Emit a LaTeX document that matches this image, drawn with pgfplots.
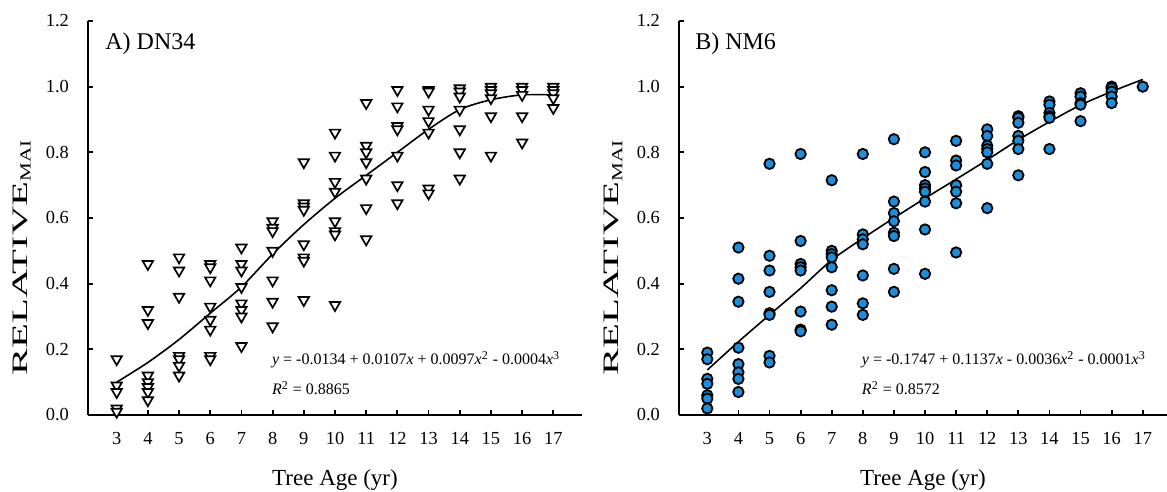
\documentclass[border=0pt]{standalone}
\usepackage{fontspec}
\setmainfont{Liberation Serif}
\usepackage{pgfplots}
\pgfplotsset{compat=1.18}
\definecolor{dotblue}{RGB}{28,142,218}
\pgfplotsset{panel/.style={
  scale only axis, height=197pt,
  ymin=0, ymax=1.2,
  xtick={3,4,...,17}, ytick={0,0.2,0.4,0.6,0.8,1.0,1.2},
  axis x line*=bottom, axis y line*=left,
  axis line style={line width=0.9pt},
  every tick/.append style={line width=0.9pt, black},
  major tick length=2.6pt, tick align=inside,
  /pgf/number format/assume math mode=true,
  xticklabel style={font=\fontsize{9.2}{10}\selectfont, yshift=-5pt},
  yticklabel style={/pgf/number format/fixed, /pgf/number format/fixed zerofill,
    /pgf/number format/precision=1, font=\fontsize{9.2}{10}\selectfont, xshift=-6pt},
  xlabel={Tree Age (yr)},
  xlabel style={at={(axis description cs:0.5,-0.178)}, anchor=base, font=\fontsize{11.5}{13}\selectfont},
  ylabel={\scalebox{1.85}[1]{RELATIVE}\scalebox{1.37}[1]{\textsubscript{MAI}}},
  ylabel style={at={(axis description cs:-0.123,0.40)}, anchor=base, font=\fontsize{11}{13}\selectfont},
  clip=false
}}
\tikzset{tri/.style={only marks, mark=triangle*, mark size=3pt,
    mark options={rotate=180, fill=white, draw=black, line width=0.85pt}},
  dot/.style={only marks, mark=*, mark size=2.6pt,
    mark options={fill=dotblue, draw=black, line width=0.9pt}},
  fit/.style={black, line width=0.8pt, smooth, no marks},
  eqn/.style={anchor=west, inner sep=0pt, font=\fontsize{8}{9}\selectfont},
  tag/.style={anchor=base west, inner sep=0pt, font=\fontsize{12}{14}\selectfont}}
\begin{document}
\begin{tikzpicture}
\useasboundingbox (0,0) rectangle (583.5pt,246pt);
% A) DN34
\begin{axis}[panel, at={(44pt,38.5pt)}, anchor=south west, width=247pt,
  xmin=2.08, xmax=17.92]
\addplot[tri] table {
x y
3 0.17
3 0.09
3 0.07
3 0.02
3 0.01
4 0.46
4 0.32
4 0.28
4 0.12
4 0.10
4 0.085
4 0.07
4 0.045
5 0.48
5 0.44
5 0.36
5 0.18
5 0.17
5 0.15
5 0.12
6 0.46
6 0.45
6 0.41
6 0.33
6 0.29
6 0.26
6 0.18
6 0.17
7 0.51
7 0.46
7 0.44
7 0.39
7 0.34
7 0.32
7 0.30
7 0.21
8 0.59
8 0.57
8 0.56
8 0.50
8 0.41
8 0.345
8 0.27
9 0.77
9 0.645
9 0.635
9 0.625
9 0.52
9 0.48
9 0.47
9 0.35
10 0.86
10 0.79
10 0.71
10 0.68
10 0.59
10 0.56
10 0.55
10 0.335
11 0.95
11 0.82
11 0.80
11 0.77
11 0.72
11 0.63
11 0.535
12 0.99
12 0.94
12 0.88
12 0.87
12 0.79
12 0.70
12 0.645
13 0.99
13 0.985
13 0.93
13 0.895
13 0.86
13 0.69
13 0.675
14 0.995
14 0.985
14 0.97
14 0.93
14 0.87
14 0.80
14 0.72
15 1.0
15 0.99
15 0.98
15 0.965
15 0.91
15 0.79
16 1.0
16 0.99
16 0.975
16 0.91
16 0.83
17 1.0
17 0.99
17 0.98
17 0.965
17 0.935
};
\addplot[fit] table {
x y
3 0.10
4 0.16
5 0.23
6 0.31
7 0.39
8 0.49
9 0.58
10 0.66
11 0.73
12 0.80
13 0.87
14 0.93
15 0.96
16 0.975
17 0.975
};
\node[tag] at (axis cs:2.625,1.112) {A) DN34};
\node[eqn] at (axis cs:7.97,0.168) {\textit{y} = -0.0134 + 0.0107\textit{x} + 0.0097\textit{x}\textsuperscript{2} - 0.0004\textit{x}\textsuperscript{3}};
\node[eqn] at (axis cs:7.97,0.082) {\textit{R}\textsuperscript{2} = 0.8865};
\end{axis}
% B) NM6
\begin{axis}[panel, at={(339.5pt,38.5pt)}, anchor=south west, width=244pt,
  xmin=2.09, xmax=17.78]
\addplot[dot] table {
x y
3 0.19
3 0.17
3 0.11
3 0.095
3 0.06
3 0.05
3 0.02
4 0.51
4 0.415
4 0.345
4 0.205
4 0.155
4 0.13
4 0.11
4 0.07
5 0.765
5 0.485
5 0.44
5 0.375
5 0.31
5 0.305
5 0.18
5 0.16
6 0.795
6 0.53
6 0.46
6 0.45
6 0.44
6 0.315
6 0.26
6 0.255
7 0.715
7 0.50
7 0.49
7 0.48
7 0.45
7 0.38
7 0.33
7 0.275
8 0.795
8 0.55
8 0.535
8 0.52
8 0.425
8 0.34
8 0.305
9 0.84
9 0.65
9 0.615
9 0.59
9 0.555
9 0.545
9 0.445
9 0.375
10 0.80
10 0.74
10 0.70
10 0.69
10 0.68
10 0.65
10 0.565
10 0.43
11 0.835
11 0.775
11 0.76
11 0.70
11 0.68
11 0.645
11 0.495
12 0.87
12 0.85
12 0.82
12 0.81
12 0.80
12 0.765
12 0.63
13 0.91
13 0.905
13 0.89
13 0.85
13 0.835
13 0.81
13 0.73
14 0.955
14 0.945
14 0.92
14 0.91
14 0.905
14 0.81
15 0.98
15 0.97
15 0.95
15 0.945
15 0.895
16 1.0
16 0.995
16 0.985
16 0.97
16 0.95
17 1.0
};
\addplot[fit] table {
x y
3 0.137
4 0.223
5 0.305
6 0.386
7 0.472
8 0.538
9 0.60
10 0.66
11 0.718
12 0.777
13 0.838
14 0.893
15 0.944
16 0.985
17 1.022
};
\node[tag] at (axis cs:2.60,1.112) {B) NM6};
\node[eqn] at (axis cs:7.96,0.168) {\textit{y} = -0.1747 + 0.1137\textit{x} - 0.0036\textit{x}\textsuperscript{2} - 0.0001\textit{x}\textsuperscript{3}};
\node[eqn] at (axis cs:7.96,0.082) {\textit{R}\textsuperscript{2} = 0.8572};
\end{axis}
\end{tikzpicture}
\end{document}
